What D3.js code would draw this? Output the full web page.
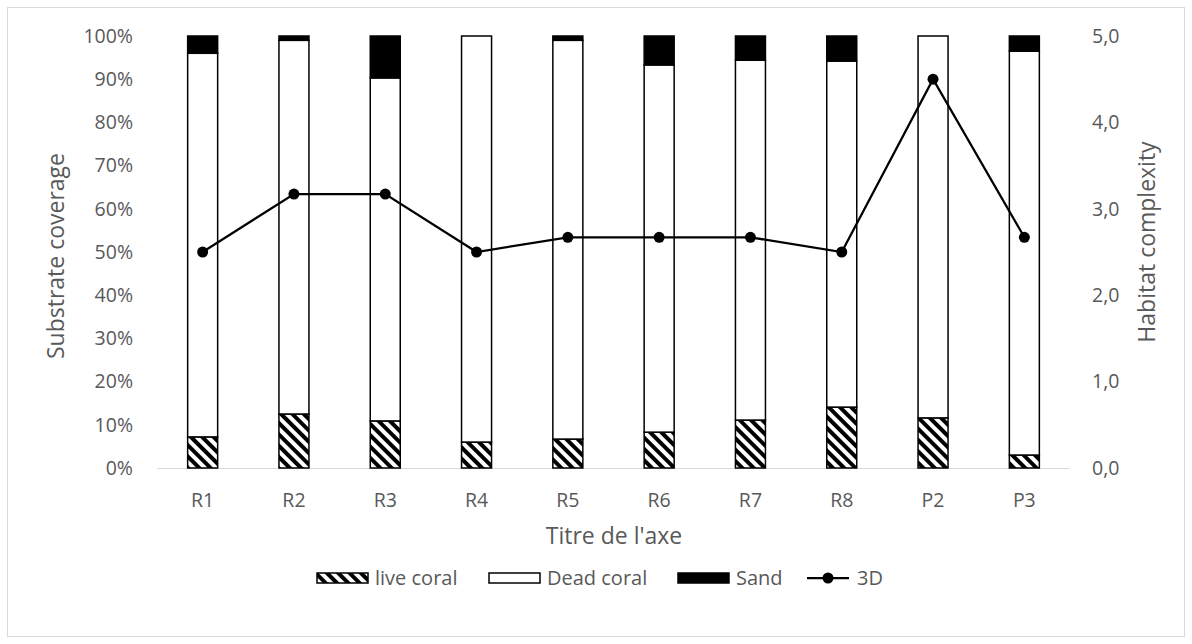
<!DOCTYPE html>
<html>
<head>
<meta charset="utf-8">
<script src="https://cdn.jsdelivr.net/npm/d3@7/dist/d3.min.js"></script>
<style>
  body { margin: 0; background: #fff; }
  text { font-family: "Open Sans", "Noto Sans", sans-serif; fill: #595959; }
</style>
</head>
<body>
<svg id="chart"></svg>
<script>
// Chart data
const sites = ["R1", "R2", "R3", "R4", "R5", "R6", "R7", "R8", "P2", "P3"];
const liveCoral = [7.2, 12.5, 10.9, 6.0, 6.7, 8.3, 11.1, 14.1, 11.6, 3.0];
const deadCoral = [88.8, 86.5, 79.4, 94.0, 92.3, 85.0, 83.3, 80.1, 88.4, 93.5];
const sand = [4.0, 1.0, 9.7, 0.0, 1.0, 6.7, 5.6, 5.8, 0.0, 3.5];
const complexity3D = [2.5, 3.17, 3.17, 2.5, 2.67, 2.67, 2.67, 2.5, 4.5, 2.67];
const leftTicks = [0, 10, 20, 30, 40, 50, 60, 70, 80, 90, 100];
const rightTicks = [0, 1, 2, 3, 4, 5];

const width = 1192;
const height = 644;
const plot = { left: 157, right: 1070, top: 36, bottom: 468 };

const svg = d3.select("#chart")
  .attr("width", width)
  .attr("height", height);

// Chart border
svg.append("rect")
  .attr("x", 7.5).attr("y", 7.5)
  .attr("width", 1177).attr("height", 629)
  .attr("fill", "#fff")
  .attr("stroke", "#d9d9d9");

// Hatch pattern for live coral
const defs = svg.append("defs");
const pat = defs.append("pattern")
  .attr("id", "hatch")
  .attr("patternUnits", "userSpaceOnUse")
  .attr("width", 8).attr("height", 8)
  .attr("patternTransform", "rotate(-45)");
pat.append("rect").attr("width", 8).attr("height", 8).attr("fill", "#fff");
pat.append("rect").attr("x", 0).attr("width", 4).attr("height", 8).attr("fill", "#000");

const x = d3.scaleBand()
  .domain(sites)
  .range([plot.left, plot.right]);

const yLeft = d3.scaleLinear()
  .domain([0, 100])
  .range([plot.bottom, plot.top]);

const yRight = d3.scaleLinear()
  .domain([0, 5])
  .range([plot.bottom, plot.top]);

const barW = 30;

// Stack the three substrate series
const rows = sites.map((s, i) => ({ site: s, live: liveCoral[i], dead: deadCoral[i], sand: sand[i] }));
const stack = d3.stack().keys(["live", "dead", "sand"])(rows);
const fills = { live: "url(#hatch)", dead: "#fff", sand: "#000" };

// x axis baseline
svg.append("line")
  .attr("x1", plot.left).attr("x2", plot.right)
  .attr("y1", plot.bottom + 0.5).attr("y2", plot.bottom + 0.5)
  .attr("stroke", "#d9d9d9");

stack.forEach(layer => {
  svg.append("g").selectAll("rect")
    .data(layer)
    .enter()
    .filter(d => d[1] - d[0] > 0)
    .append("rect")
    .attr("x", d => x(d.data.site) + x.bandwidth() / 2 - barW / 2)
    .attr("y", d => yLeft(d[1]))
    .attr("width", barW)
    .attr("height", d => yLeft(d[0]) - yLeft(d[1]))
    .attr("fill", fills[layer.key])
    .attr("stroke", "#000")
    .attr("stroke-width", 1.5);
});

// Left axis labels
svg.append("g").selectAll("text")
  .data(leftTicks)
  .enter()
  .append("text")
  .attr("x", 133)
  .attr("y", d => yLeft(d))
  .attr("dy", "0.35em")
  .attr("text-anchor", "end")
  .style("font-size", "19.5px")
  .text(d => d + "%");

// Right axis labels
svg.append("g").selectAll("text")
  .data(rightTicks)
  .enter()
  .append("text")
  .attr("x", 1092)
  .attr("y", d => yRight(d))
  .attr("dy", "0.35em")
  .attr("text-anchor", "start")
  .style("font-size", "19.5px")
  .text(d => d.toFixed(1).replace(".", ","));

// x axis labels
svg.append("g").selectAll("text")
  .data(sites)
  .enter()
  .append("text")
  .attr("x", d => x(d) + x.bandwidth() / 2)
  .attr("y", 507)
  .attr("text-anchor", "middle")
  .style("font-size", "19.5px")
  .text(d => d);

// Axis titles
svg.append("text")
  .attr("x", 614).attr("y", 544)
  .attr("text-anchor", "middle")
  .style("font-size", "23px")
  .text("Titre de l'axe");

svg.append("text")
  .attr("transform", "translate(64,256) rotate(-90)")
  .attr("text-anchor", "middle")
  .style("font-size", "23px")
  .text("Substrate coverage");

svg.append("text")
  .attr("transform", "translate(1155,242) rotate(-90)")
  .attr("text-anchor", "middle")
  .style("font-size", "23px")
  .text("Habitat complexity");

// 3D line
const line = d3.line()
  .x((d, i) => x(sites[i]) + x.bandwidth() / 2)
  .y(d => yRight(d));

svg.append("path")
  .datum(complexity3D)
  .attr("d", line)
  .attr("fill", "none")
  .attr("stroke", "#000")
  .attr("stroke-width", 2.25);

svg.append("g").selectAll("circle")
  .data(complexity3D)
  .enter()
  .append("circle")
  .attr("cx", (d, i) => x(sites[i]) + x.bandwidth() / 2)
  .attr("cy", d => yRight(d))
  .attr("r", 5.5)
  .attr("fill", "#000");

// Legend
const legendY = 578;
const legend = svg.append("g");

legend.append("rect")
  .attr("x", 317).attr("y", legendY - 5).attr("width", 51).attr("height", 10)
  .attr("fill", "url(#hatch)").attr("stroke", "#000").attr("stroke-width", 1.5);
legend.append("text").attr("x", 375).attr("y", legendY).attr("dy", "0.35em")
  .style("font-size", "20px").text("live coral");

legend.append("rect")
  .attr("x", 489).attr("y", legendY - 5).attr("width", 51).attr("height", 10)
  .attr("fill", "#fff").attr("stroke", "#000").attr("stroke-width", 1.5);
legend.append("text").attr("x", 547).attr("y", legendY).attr("dy", "0.35em")
  .style("font-size", "20px").text("Dead coral");

legend.append("rect")
  .attr("x", 678).attr("y", legendY - 5).attr("width", 51).attr("height", 10)
  .attr("fill", "#000").attr("stroke", "#000").attr("stroke-width", 1.5);
legend.append("text").attr("x", 736).attr("y", legendY).attr("dy", "0.35em")
  .style("font-size", "20px").text("Sand");

legend.append("line")
  .attr("x1", 807).attr("x2", 849).attr("y1", legendY).attr("y2", legendY)
  .attr("stroke", "#000").attr("stroke-width", 2.25);
legend.append("circle")
  .attr("cx", 828).attr("cy", legendY).attr("r", 5.5).attr("fill", "#000");
legend.append("text").attr("x", 857).attr("y", legendY).attr("dy", "0.35em")
  .style("font-size", "20px").text("3D");
</script>
</body>
</html>
